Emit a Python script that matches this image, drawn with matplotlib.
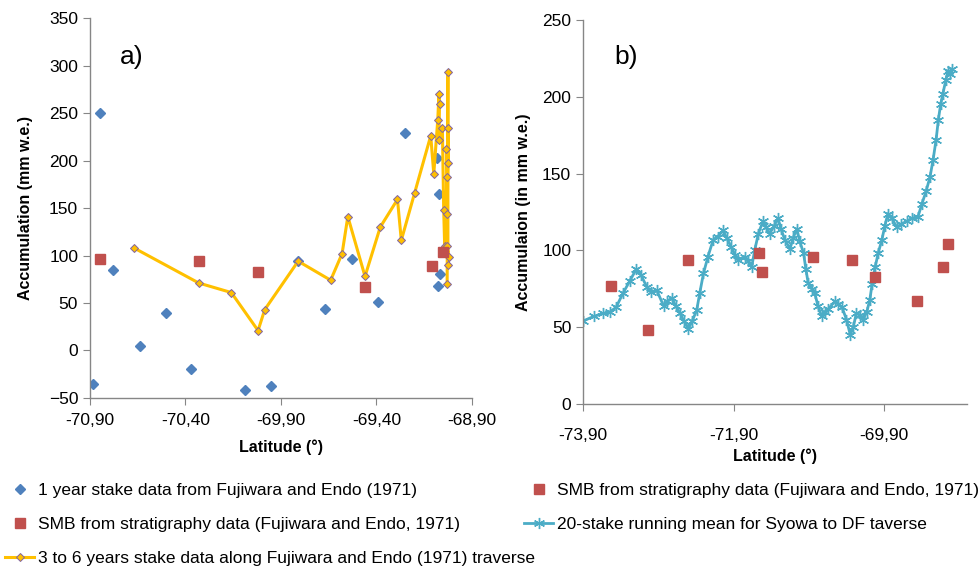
import matplotlib
matplotlib.use("Agg")
import matplotlib.pyplot as plt
from matplotlib.ticker import FuncFormatter

plt.rcParams['font.family'] = ['Liberation Sans', 'DejaVu Sans']

# ---- panel a data ----
stake1_lat = [-70.886, -70.85, -70.78, -70.64, -70.50, -70.37, -70.09, -69.95, -69.81,
              -69.67, -69.53, -69.39, -69.25, -69.085, -69.074, -69.07, -69.08]
stake1_acc = [-35, 250, 85, 5, 39, -19, -42, -37, 94, 44, 96, 51, 229, 203, 165, 81, 68]

smb_a_lat = [-70.85, -70.33, -70.02, -69.46, -69.11, -69.05]
smb_a_acc = [96, 94, 83, 67, 89, 104]

trav_lat = [-70.67, -70.33, -70.16, -70.02, -69.985, -69.81, -69.64, -69.58, -69.55,
            -69.46, -69.38, -69.29, -69.27, -69.20, -69.116, -69.10, -69.079, -69.073,
            -69.07, -69.073, -69.055, -69.048, -69.043, -69.031, -69.031, -69.034,
            -69.026, -69.026, -69.031, -69.02, -69.026, -69.026, -69.03]
trav_acc = [108, 71, 61, 21, 43, 94, 74, 102, 141, 78, 130, 159, 116, 166, 226, 186,
            243, 270, 260, 222, 234, 148, 110, 183, 144, 212, 197, 234, 110, 98, 90, 293, 70]

# ---- panel b data ----
smb_b_lat = [-73.53, -73.04, -72.51, -71.56, -71.52, -70.85, -70.33, -70.02, -69.46, -69.12, -69.05]
smb_b_acc = [77, 48, 94, 98, 86, 96, 94, 83, 67, 89, 104]

run_lat = [-73.90, -73.76, -73.63, -73.54, -73.46, -73.37, -73.28, -73.19, -73.13, -73.05,
           -73.00, -72.92, -72.83, -72.78, -72.72, -72.67, -72.61, -72.56, -72.50, -72.45,
           -72.39, -72.35, -72.30, -72.24, -72.17, -72.11, -72.04, -71.99, -71.93, -71.88,
           -71.84, -71.75, -71.71, -71.66, -71.62, -71.57, -71.51, -71.47, -71.42, -71.36,
           -71.31, -71.27, -71.22, -71.15, -71.11, -71.06, -71.02, -70.97, -70.94, -70.91,
           -70.86, -70.82, -70.78, -70.73, -70.69, -70.64, -70.55, -70.51, -70.46, -70.40,
           -70.35, -70.31, -70.27, -70.22, -70.18, -70.13, -70.09, -70.06, -70.02, -69.98,
           -69.93, -69.89, -69.85, -69.80, -69.73, -69.68, -69.60, -69.53, -69.45, -69.40,
           -69.34, -69.29, -69.25, -69.21, -69.18, -69.15, -69.12, -69.08, -69.05, -69.02, -69.00]
run_acc = [54, 57, 59, 60, 63, 72, 80, 88, 84, 76,
           73, 74, 64, 67, 69, 64, 59, 54, 49, 54,
           61, 72, 85, 96, 107, 109, 113, 108, 102, 97,
           94, 96, 93, 89, 100, 111, 119, 115, 111, 116,
           121, 114, 107, 101, 108, 114, 106, 98, 88, 79,
           75, 72, 64, 57, 60, 62, 67, 65, 63, 55,
           45, 50, 59, 58, 55, 60, 68, 78, 89, 98,
           107, 116, 124, 121, 115, 117, 119, 121, 122, 130,
           139, 148, 159, 172, 185, 195, 202, 211, 217, 215, 218]

blue = '#4F81BD'
red = '#C0504D'
gold = '#FFC000'
purple = '#8064A2'
teal = '#4BACC6'
spine_c = '#868686'

comma = FuncFormatter(lambda v, p: ('%.2f' % v).replace('.', ','))


def style_axes(ax):
    for s in ['top', 'right']:
        ax.spines[s].set_visible(False)
    for s in ['left', 'bottom']:
        ax.spines[s].set_color(spine_c)
        ax.spines[s].set_linewidth(1.0)
    ax.tick_params(direction='out', length=5, color=spine_c, labelsize=12.5)


fig = plt.figure(figsize=(9.79, 5.68), dpi=100)

# panel a
ax1 = fig.add_axes([0.0919, 0.2993, 0.3902, 0.669])
h1, = ax1.plot(stake1_lat, stake1_acc, ls='none', marker='D', ms=5.5, color=blue,
               label='1 year stake data from Fujiwara and Endo (1971)')
h3, = ax1.plot(trav_lat, trav_acc, color=gold, lw=2.2, marker='D', ms=4.5,
               mfc=gold, mec=purple, mew=0.7,
               label='3 to 6 years stake data along Fujiwara and Endo (1971) traverse')
h2, = ax1.plot(smb_a_lat, smb_a_acc, ls='none', marker='s', ms=7, color=red,
               label='SMB from stratigraphy data (Fujiwara and Endo, 1971)')
ax1.set_xlim(-70.9, -68.9)
ax1.set_ylim(-50, 350)
ax1.set_xticks([-70.9, -70.4, -69.9, -69.4, -68.9])
ax1.set_yticks(range(-50, 351, 50))
ax1.xaxis.set_major_formatter(comma)
style_axes(ax1)
ax1.tick_params(axis='x', pad=6)
ax1.set_xlabel('Latitude (°)', fontsize=11.5, fontweight='bold', labelpad=8)
ax1.set_ylabel('Accumulation (mm w.e.)', fontsize=11.5, fontweight='bold', labelpad=11)
ax1.text(0.11, 0.897, 'a)', transform=ax1.transAxes, fontsize=19, ha='center', va='center')

# panel b
ax2 = fig.add_axes([0.5955, 0.2887, 0.3922, 0.6761])
h5, = ax2.plot(run_lat, run_acc, color=teal, lw=2.0, marker=(6, 2, 0), ms=8, mew=1.0,
               label='20-stake running mean for Syowa to DF taverse')
h4, = ax2.plot(smb_b_lat, smb_b_acc, ls='none', marker='s', ms=7, color=red,
               label='SMB from stratigraphy data (Fujiwara and Endo, 1971)')
ax2.set_xlim(-73.9, -68.8)
ax2.set_ylim(0, 250)
ax2.set_xticks([-73.9, -71.9, -69.9])
ax2.set_yticks(range(0, 251, 50))
ax2.xaxis.set_major_formatter(comma)
style_axes(ax2)
ax2.tick_params(axis='x', pad=12)
ax2.set_xlabel('Latitude (°)', fontsize=11.5, fontweight='bold', labelpad=4)
ax2.set_ylabel('Accumulaion (in mm w.e.)', fontsize=11.5, fontweight='bold', labelpad=8)
ax2.text(0.112, 0.904, 'b)', transform=ax2.transAxes, fontsize=19, ha='center', va='center')

leg_font = {'size': 12.5}

fig.legend(handles=[h1, h2, h3], loc='upper left', bbox_to_anchor=(0.005, 0.15),
           frameon=False, prop=leg_font, handlelength=1.7, handletextpad=0.2,
           labelspacing=1.1, borderaxespad=0, borderpad=0)
fig.legend(handles=[h4, h5], loc='upper left', bbox_to_anchor=(0.535, 0.15),
           frameon=False, prop=leg_font, handlelength=1.7, handletextpad=0.2,
           labelspacing=1.1, borderaxespad=0, borderpad=0)

fig.savefig('out.png', dpi=100)
